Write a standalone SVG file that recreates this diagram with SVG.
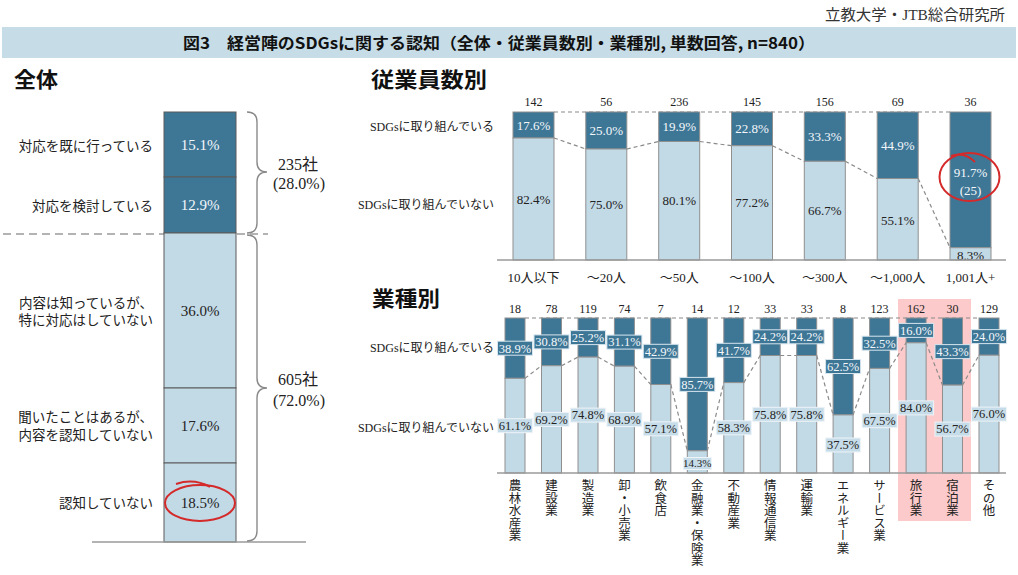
<svg xmlns="http://www.w3.org/2000/svg" width="1018" height="575" viewBox="0 0 1018 575">
<style>
.sf{font-family:"Liberation Serif","Noto Sans CJK JP",serif}
.ss{font-family:"Noto Sans CJK JP","Liberation Sans",sans-serif}
.hd{font-family:"Noto Sans CJK JP","Liberation Sans",sans-serif;font-weight:bold;font-size:21px;fill:#111}
.dk{fill:#3e7696;stroke:#8f8f8f;stroke-width:1}
.lt{fill:#c2d9e6;stroke:#8f8f8f;stroke-width:1}
.ldk{fill:#3e7696;stroke:#5a5a5a;stroke-width:1}
.llt{fill:#c2d9e6;stroke:#5a5a5a;stroke-width:1}
.bdk{fill:#3e7696;stroke:#d6e5ee;stroke-width:1}
.blt{fill:#c6dce8;stroke:#eef4f8;stroke-width:1}
.wt{fill:#f4f8fb;text-anchor:middle}
.bt{fill:#222;text-anchor:middle}
.cn{fill:none;stroke:#8a8a8a;stroke-width:1.2;stroke-dasharray:4 3}
.ax{fill:none;stroke:#9a9a9a;stroke-width:1.5}
.rl{text-anchor:end;fill:#222}
.ct{text-anchor:middle;fill:#222}
.vt{writing-mode:vertical-rl;font-size:12.5px;fill:#222}
.red{fill:none;stroke:#d42a2a;stroke-width:2}
.br{fill:none;stroke:#8a8a8a;stroke-width:1.4}
</style>

<g id="header">
<text class="sf" x="1005" y="20" font-size="15" text-anchor="end" fill="#333" textLength="180" lengthAdjust="spacingAndGlyphs">立教大学・JTB総合研究所</text>
<rect x="2" y="27" width="1014" height="31" fill="#c6dce7"/>
<text class="ss" x="499" y="48.5" font-size="16" font-weight="bold" text-anchor="middle" fill="#111" textLength="632" lengthAdjust="spacingAndGlyphs">図3　経営陣のSDGsに関する認知（全体・従業員数別・業種別, 単数回答, n=840）</text>
</g>

<g id="titles">
<text class="hd" x="14" y="87" textLength="44" lengthAdjust="spacingAndGlyphs">全体</text>
<text class="hd" x="371" y="87" textLength="116" lengthAdjust="spacingAndGlyphs">従業員数別</text>
<text class="hd" x="372" y="306" textLength="68" lengthAdjust="spacingAndGlyphs">業種別</text>
</g>

<!-- Left chart -->
<g id="left-chart">
<line x1="3" y1="234" x2="268" y2="234" stroke="#b3b3b3" stroke-width="2" stroke-dasharray="8 5"/>
<g id="seg-taiou-sude">
<rect class="ldk" x="164" y="112" width="72" height="65"/>
<text class="sf wt" x="200" y="144.5" dy="0.35em" font-size="15">15.1%</text>
<text class="sf rl" x="153" y="146" dy="0.35em" font-size="13.5">対応を既に行っている</text>
</g>
<g id="seg-kentou">
<rect class="ldk" x="164" y="177" width="72" height="56"/>
<text class="sf wt" x="200" y="205" dy="0.35em" font-size="15">12.9%</text>
<text class="sf rl" x="153" y="206" dy="0.35em" font-size="13.5">対応を検討している</text>
</g>
<g id="seg-shitteiru">
<rect class="llt" x="164" y="233" width="72" height="155"/>
<text class="sf bt" x="200" y="311" dy="0.35em" font-size="15">36.0%</text>
<text class="sf rl" x="153" y="303" dy="0.35em" font-size="13.5">内容は知っているが、</text>
<text class="sf rl" x="153" y="320" dy="0.35em" font-size="13.5">特に対応はしていない</text>
</g>
<g id="seg-kiita">
<rect class="llt" x="164" y="388" width="72" height="75"/>
<text class="sf bt" x="200" y="426" dy="0.35em" font-size="15">17.6%</text>
<text class="sf rl" x="153" y="417" dy="0.35em" font-size="13.5">聞いたことはあるが、</text>
<text class="sf rl" x="153" y="435" dy="0.35em" font-size="13.5">内容を認知していない</text>
</g>
<g id="seg-ninchi-nashi">
<rect class="llt" x="164" y="463" width="72" height="79"/>
<text class="sf bt" x="200" y="503" dy="0.35em" font-size="15">18.5%</text>
<text class="sf rl" x="153" y="503" dy="0.35em" font-size="13.5">認知していない</text>
<ellipse class="red" cx="200" cy="503" rx="35" ry="18"/>
<path class="red" d="M176,484 Q194,478 210,487" stroke-width="2.5"/>
</g>
<line class="ax" x1="92" y1="542" x2="306" y2="542"/>
<g id="brace-235">
<path class="br" d="M247,112 Q257,112 257,122 L257,162 Q257,172 267,172 Q257,172 257,182 L257,223 Q257,233 247,233"/>
<text class="sf" x="298" y="164" dy="0.35em" font-size="16" text-anchor="middle" fill="#222">235社</text>
<text class="sf" x="299" y="183" dy="0.35em" font-size="16" text-anchor="middle" fill="#222">(28.0%)</text>
</g>
<g id="brace-605">
<path class="br" d="M247,235 Q257,235 257,245 L257,378 Q257,388 267,388 Q257,388 257,398 L257,531 Q257,541 247,541"/>
<text class="sf" x="298" y="379" dy="0.35em" font-size="16" text-anchor="middle" fill="#222">605社</text>
<text class="sf" x="299" y="400" dy="0.35em" font-size="16" text-anchor="middle" fill="#222">(72.0%)</text>
</g>
</g>

<!-- Upper right chart -->
<g id="emp-connectors">
<line class="cn" x1="554" y1="112" x2="950" y2="112"/>
<line class="cn" x1="554" y1="138" x2="585.8" y2="149"/>
<line class="cn" x1="626.8" y1="149" x2="658.7" y2="141.5"/>
<line class="cn" x1="699.7" y1="141.5" x2="731.5" y2="145.7"/>
<line class="cn" x1="772.5" y1="145.7" x2="804.3" y2="161.3"/>
<line class="cn" x1="845.3" y1="161.3" x2="877.2" y2="178.5"/>
<line class="cn" x1="918.2" y1="178.5" x2="950" y2="247.7"/>
</g>
<g id="emp-labels">
<text class="sf rl" x="494" y="127" dy="0.35em" font-size="12">SDGsに取り組んでいる</text>
<text class="sf rl" x="494" y="205" dy="0.35em" font-size="12">SDGsに取り組んでいない</text>
</g>
<g id="emp-1" class="sf">
<rect class="dk" x="513" y="112" width="41" height="26"/><rect class="lt" x="513" y="138" width="41" height="122"/>
<text class="wt" x="533.5" y="125" dy="0.35em" font-size="13">17.6%</text>
<text class="bt" x="533.5" y="199" dy="0.35em" font-size="13">82.4%</text>
<text class="ct" x="533.5" y="102" dy="0.35em" font-size="12">142</text>
<text class="ct" x="533.5" y="277" dy="0.35em" font-size="13">10人以下</text>
</g>
<g id="emp-2" class="sf">
<rect class="dk" x="585.8" y="112" width="41" height="37"/><rect class="lt" x="585.8" y="149" width="41" height="111"/>
<text class="wt" x="606.3" y="130.5" dy="0.35em" font-size="13">25.0%</text>
<text class="bt" x="606.3" y="204.5" dy="0.35em" font-size="13">75.0%</text>
<text class="ct" x="606.3" y="102" dy="0.35em" font-size="12">56</text>
<text class="ct" x="606.3" y="277" dy="0.35em" font-size="13">～20人</text>
</g>
<g id="emp-3" class="sf">
<rect class="dk" x="658.7" y="112" width="41" height="29.5"/><rect class="lt" x="658.7" y="141.5" width="41" height="118.5"/>
<text class="wt" x="679.2" y="126.8" dy="0.35em" font-size="13">19.9%</text>
<text class="bt" x="679.2" y="200.8" dy="0.35em" font-size="13">80.1%</text>
<text class="ct" x="679.2" y="102" dy="0.35em" font-size="12">236</text>
<text class="ct" x="679.2" y="277" dy="0.35em" font-size="13">～50人</text>
</g>
<g id="emp-4" class="sf">
<rect class="dk" x="731.5" y="112" width="41" height="33.7"/><rect class="lt" x="731.5" y="145.7" width="41" height="114.3"/>
<text class="wt" x="752" y="128.9" dy="0.35em" font-size="13">22.8%</text>
<text class="bt" x="752" y="202.9" dy="0.35em" font-size="13">77.2%</text>
<text class="ct" x="752" y="102" dy="0.35em" font-size="12">145</text>
<text class="ct" x="752" y="277" dy="0.35em" font-size="13">～100人</text>
</g>
<g id="emp-5" class="sf">
<rect class="dk" x="804.3" y="112" width="41" height="49.3"/><rect class="lt" x="804.3" y="161.3" width="41" height="98.7"/>
<text class="wt" x="824.8" y="136.7" dy="0.35em" font-size="13">33.3%</text>
<text class="bt" x="824.8" y="210.7" dy="0.35em" font-size="13">66.7%</text>
<text class="ct" x="824.8" y="102" dy="0.35em" font-size="12">156</text>
<text class="ct" x="824.8" y="277" dy="0.35em" font-size="13">～300人</text>
</g>
<g id="emp-6" class="sf">
<rect class="dk" x="877.2" y="112" width="41" height="66.5"/><rect class="lt" x="877.2" y="178.5" width="41" height="81.5"/>
<text class="wt" x="897.7" y="145.3" dy="0.35em" font-size="13">44.9%</text>
<text class="bt" x="897.7" y="220" dy="0.35em" font-size="13">55.1%</text>
<text class="ct" x="897.7" y="102" dy="0.35em" font-size="12">69</text>
<text class="ct" x="897.7" y="277" dy="0.35em" font-size="13">～1,000人</text>
</g>
<g id="emp-7" class="sf">
<rect class="dk" x="950" y="112" width="41" height="135.7"/><rect class="lt" x="950" y="247.7" width="41" height="12.3"/>
<text class="wt" x="970.5" y="172" dy="0.35em" font-size="13">91.7%</text>
<text class="wt" x="970.5" y="190" dy="0.35em" font-size="13">(25)</text>
<text class="bt" x="970.5" y="255" dy="0.35em" font-size="13">8.3%</text>
<text class="ct" x="970.5" y="102" dy="0.35em" font-size="12">36</text>
<text class="ct" x="970.5" y="277" dy="0.35em" font-size="13">1,001人+</text>
<ellipse class="red" cx="969.5" cy="177" rx="30" ry="24"/>
<path class="red" d="M951,156 Q964,151 975,162" stroke-width="2.5"/>
</g>
<line class="ax" x1="497" y1="260" x2="1006" y2="260"/>

<!-- Lower right chart -->
<rect id="highlight" x="898" y="299" width="73" height="222" fill="#fccaca"/>
<g id="ind-connectors">
<line class="cn" x1="525" y1="318" x2="979" y2="318"/>
<line class="cn" x1="525" y1="378.3" x2="541.5" y2="365.7"/>
<line class="cn" x1="561.5" y1="365.7" x2="578" y2="357.1"/>
<line class="cn" x1="598" y1="357.1" x2="614.4" y2="366.2"/>
<line class="cn" x1="634.4" y1="366.2" x2="650.8" y2="384.5"/>
<line class="cn" x1="670.8" y1="384.5" x2="687.3" y2="450.8"/>
<line class="cn" x1="707.3" y1="450.8" x2="723.8" y2="382.6"/>
<line class="cn" x1="743.8" y1="382.6" x2="760.2" y2="355.5"/>
<line class="cn" x1="780.2" y1="355.5" x2="796.7" y2="355.5"/>
<line class="cn" x1="816.7" y1="355.5" x2="833.1" y2="414.9"/>
<line class="cn" x1="853.1" y1="414.9" x2="869.6" y2="368.4"/>
<line class="cn" x1="889.6" y1="368.4" x2="906.1" y2="342.8"/>
<line class="cn" x1="926.1" y1="342.8" x2="942.5" y2="385.1"/>
<line class="cn" x1="962.5" y1="385.1" x2="979" y2="355.2"/>
</g>
<g id="ind-labels">
<text class="sf rl" x="494" y="348" dy="0.35em" font-size="12">SDGsに取り組んでいる</text>
<text class="sf rl" x="494" y="428" dy="0.35em" font-size="12">SDGsに取り組んでいない</text>
</g>
<g id="ind-bars">
<rect class="dk" x="505" y="318" width="20" height="60.3"/><rect class="lt" x="505" y="378.3" width="20" height="94.7"/>
<rect class="dk" x="541.5" y="318" width="20" height="47.7"/><rect class="lt" x="541.5" y="365.7" width="20" height="107.3"/>
<rect class="dk" x="578" y="318" width="20" height="39.1"/><rect class="lt" x="578" y="357.1" width="20" height="115.9"/>
<rect class="dk" x="614.4" y="318" width="20" height="48.2"/><rect class="lt" x="614.4" y="366.2" width="20" height="106.8"/>
<rect class="dk" x="650.8" y="318" width="20" height="66.5"/><rect class="lt" x="650.8" y="384.5" width="20" height="88.5"/>
<rect class="dk" x="687.3" y="318" width="20" height="132.8"/><rect class="lt" x="687.3" y="450.8" width="20" height="22.2"/>
<rect class="dk" x="723.8" y="318" width="20" height="64.6"/><rect class="lt" x="723.8" y="382.6" width="20" height="90.4"/>
<rect class="dk" x="760.2" y="318" width="20" height="37.5"/><rect class="lt" x="760.2" y="355.5" width="20" height="117.5"/>
<rect class="dk" x="796.7" y="318" width="20" height="37.5"/><rect class="lt" x="796.7" y="355.5" width="20" height="117.5"/>
<rect class="dk" x="833.1" y="318" width="20" height="96.9"/><rect class="lt" x="833.1" y="414.9" width="20" height="58.1"/>
<rect class="dk" x="869.6" y="318" width="20" height="50.4"/><rect class="lt" x="869.6" y="368.4" width="20" height="104.6"/>
<rect class="dk" x="906.1" y="318" width="20" height="24.8"/><rect class="lt" x="906.1" y="342.8" width="20" height="130.2"/>
<rect class="dk" x="942.5" y="318" width="20" height="67.1"/><rect class="lt" x="942.5" y="385.1" width="20" height="87.9"/>
<rect class="dk" x="979" y="318" width="20" height="37.2"/><rect class="lt" x="979" y="355.2" width="20" height="117.8"/>
</g>
<line class="ax" x1="497" y1="473" x2="1006" y2="473"/>

<g id="ind-1" class="sf">
<rect class="bdk" x="497.5" y="341.2" width="35" height="14"/><text class="wt" x="515" y="348.2" dy="0.35em" font-size="12.5">38.9%</text>
<rect class="blt" x="497.5" y="418.7" width="35" height="14"/><text class="bt" x="515" y="425.7" dy="0.35em" font-size="12.5">61.1%</text>
<text class="ct" x="515" y="309" dy="0.35em" font-size="12">18</text>
<text class="ss vt" x="515" y="479">農林水産業</text>
</g>
<g id="ind-2" class="sf">
<rect class="bdk" x="534" y="334.9" width="35" height="14"/><text class="wt" x="551.5" y="341.9" dy="0.35em" font-size="12.5">30.8%</text>
<rect class="blt" x="534" y="412.4" width="35" height="14"/><text class="bt" x="551.5" y="419.4" dy="0.35em" font-size="12.5">69.2%</text>
<text class="ct" x="551.5" y="309" dy="0.35em" font-size="12">78</text>
<text class="ss vt" x="551.5" y="479">建設業</text>
</g>
<g id="ind-3" class="sf">
<rect class="bdk" x="570.5" y="330.6" width="35" height="14"/><text class="wt" x="588" y="337.6" dy="0.35em" font-size="12.5">25.2%</text>
<rect class="blt" x="570.5" y="408.1" width="35" height="14"/><text class="bt" x="588" y="415.1" dy="0.35em" font-size="12.5">74.8%</text>
<text class="ct" x="588" y="309" dy="0.35em" font-size="12">119</text>
<text class="ss vt" x="588" y="479">製造業</text>
</g>
<g id="ind-4" class="sf">
<rect class="bdk" x="606.9" y="335.1" width="35" height="14"/><text class="wt" x="624.4" y="342.1" dy="0.35em" font-size="12.5">31.1%</text>
<rect class="blt" x="606.9" y="412.6" width="35" height="14"/><text class="bt" x="624.4" y="419.6" dy="0.35em" font-size="12.5">68.9%</text>
<text class="ct" x="624.4" y="309" dy="0.35em" font-size="12">74</text>
<text class="ss vt" x="624.4" y="479">卸・小売業</text>
</g>
<g id="ind-5" class="sf">
<rect class="bdk" x="643.3" y="344.3" width="35" height="14"/><text class="wt" x="660.8" y="351.3" dy="0.35em" font-size="12.5">42.9%</text>
<rect class="blt" x="643.3" y="421.8" width="35" height="14"/><text class="bt" x="660.8" y="428.8" dy="0.35em" font-size="12.5">57.1%</text>
<text class="ct" x="660.8" y="309" dy="0.35em" font-size="12">7</text>
<text class="ss vt" x="660.8" y="479">飲食店</text>
</g>
<g id="ind-6" class="sf">
<rect class="bdk" x="679.8" y="377.4" width="35" height="14"/><text class="wt" x="697.3" y="384.4" dy="0.35em" font-size="12.5">85.7%</text>
<rect class="blt" x="683.3" y="457.5" width="28" height="12"/><text class="bt" x="697.3" y="463.5" dy="0.35em" font-size="11">14.3%</text>
<text class="ct" x="697.3" y="309" dy="0.35em" font-size="12">14</text>
<text class="ss vt" x="697.3" y="479">金融業・保険業</text>
</g>
<g id="ind-7" class="sf">
<rect class="bdk" x="716.3" y="343.3" width="35" height="14"/><text class="wt" x="733.8" y="350.3" dy="0.35em" font-size="12.5">41.7%</text>
<rect class="blt" x="716.3" y="420.8" width="35" height="14"/><text class="bt" x="733.8" y="427.8" dy="0.35em" font-size="12.5">58.3%</text>
<text class="ct" x="733.8" y="309" dy="0.35em" font-size="12">12</text>
<text class="ss vt" x="733.8" y="479">不動産業</text>
</g>
<g id="ind-8" class="sf">
<rect class="bdk" x="752.7" y="329.8" width="35" height="14"/><text class="wt" x="770.2" y="336.8" dy="0.35em" font-size="12.5">24.2%</text>
<rect class="blt" x="752.7" y="407.3" width="35" height="14"/><text class="bt" x="770.2" y="414.3" dy="0.35em" font-size="12.5">75.8%</text>
<text class="ct" x="770.2" y="309" dy="0.35em" font-size="12">33</text>
<text class="ss vt" x="770.2" y="479">情報通信業</text>
</g>
<g id="ind-9" class="sf">
<rect class="bdk" x="789.2" y="329.8" width="35" height="14"/><text class="wt" x="806.7" y="336.8" dy="0.35em" font-size="12.5">24.2%</text>
<rect class="blt" x="789.2" y="407.3" width="35" height="14"/><text class="bt" x="806.7" y="414.3" dy="0.35em" font-size="12.5">75.8%</text>
<text class="ct" x="806.7" y="309" dy="0.35em" font-size="12">33</text>
<text class="ss vt" x="806.7" y="479">運輸業</text>
</g>
<g id="ind-10" class="sf">
<rect class="bdk" x="825.6" y="359.5" width="35" height="14"/><text class="wt" x="843.1" y="366.5" dy="0.35em" font-size="12.5">62.5%</text>
<rect class="blt" x="825.6" y="438" width="35" height="14"/><text class="bt" x="843.1" y="445" dy="0.35em" font-size="12.5">37.5%</text>
<text class="ct" x="843.1" y="309" dy="0.35em" font-size="12">8</text>
<text class="ss vt" x="843.1" y="479">エネルギー業</text>
</g>
<g id="ind-11" class="sf">
<rect class="bdk" x="862.1" y="336.2" width="35" height="14"/><text class="wt" x="879.6" y="343.2" dy="0.35em" font-size="12.5">32.5%</text>
<rect class="blt" x="862.1" y="413.7" width="35" height="14"/><text class="bt" x="879.6" y="420.7" dy="0.35em" font-size="12.5">67.5%</text>
<text class="ct" x="879.6" y="309" dy="0.35em" font-size="12">123</text>
<text class="ss vt" x="879.6" y="479">サービス業</text>
</g>
<g id="ind-12" class="sf">
<rect class="bdk" x="898.6" y="323.4" width="35" height="14"/><text class="wt" x="916.1" y="330.4" dy="0.35em" font-size="12.5">16.0%</text>
<rect class="blt" x="898.6" y="400.9" width="35" height="14"/><text class="bt" x="916.1" y="407.9" dy="0.35em" font-size="12.5">84.0%</text>
<text class="ct" x="916.1" y="309" dy="0.35em" font-size="12">162</text>
<text class="ss vt" x="916.1" y="479">旅行業</text>
</g>
<g id="ind-13" class="sf">
<rect class="bdk" x="935" y="344.6" width="35" height="14"/><text class="wt" x="952.5" y="351.6" dy="0.35em" font-size="12.5">43.3%</text>
<rect class="blt" x="935" y="422.1" width="35" height="14"/><text class="bt" x="952.5" y="429.1" dy="0.35em" font-size="12.5">56.7%</text>
<text class="ct" x="952.5" y="309" dy="0.35em" font-size="12">30</text>
<text class="ss vt" x="952.5" y="479">宿泊業</text>
</g>
<g id="ind-14" class="sf">
<rect class="bdk" x="971.5" y="329.6" width="35" height="14"/><text class="wt" x="989" y="336.6" dy="0.35em" font-size="12.5">24.0%</text>
<rect class="blt" x="971.5" y="407.1" width="35" height="14"/><text class="bt" x="989" y="414.1" dy="0.35em" font-size="12.5">76.0%</text>
<text class="ct" x="989" y="309" dy="0.35em" font-size="12">129</text>
<text class="ss vt" x="989" y="479">その他</text>
</g>
</svg>
